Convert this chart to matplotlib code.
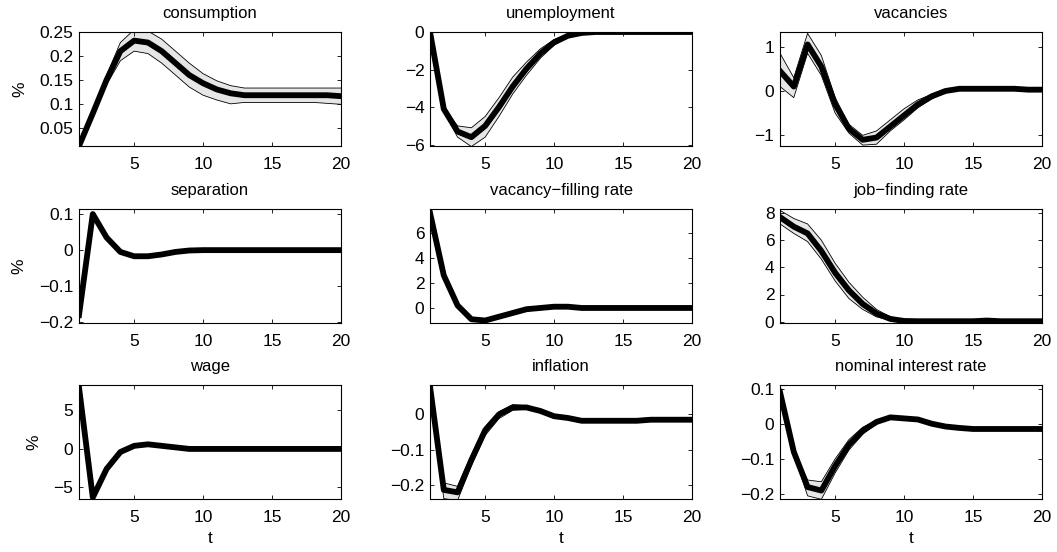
import numpy
import matplotlib
matplotlib.use("Agg")
import matplotlib.pyplot

matplotlib.pyplot.rcParams["font.family"] = ["Liberation Sans", "DejaVu Sans"]
matplotlib.pyplot.rcParams["font.size"] = 12.5

t = numpy.arange(1, 21)

titles = [
    "consumption", "unemployment", "vacancies",
    "separation", "vacancy\u2212filling rate", "job\u2212finding rate",
    "wage", "inflation", "nominal interest rate",
]

# posterior mean responses
consumption = [0.012, 0.08, 0.15, 0.21, 0.232, 0.228, 0.21, 0.185, 0.16, 0.143,
               0.13, 0.122, 0.118, 0.118, 0.118, 0.118, 0.118, 0.118, 0.118, 0.116]
unemployment = [0.0, -4.1, -5.3, -5.6, -5.0, -4.0, -2.9, -1.95, -1.15, -0.55,
                -0.2, -0.05, 0.0, 0.0, 0.0, 0.0, 0.0, 0.0, 0.0, 0.0]
vacancies = [0.45, 0.1, 1.05, 0.55, -0.3, -0.85, -1.1, -1.05, -0.8, -0.55,
             -0.3, -0.12, 0.0, 0.05, 0.05, 0.05, 0.05, 0.05, 0.03, 0.03]
separation = [-0.18, 0.1, 0.035, -0.005, -0.017, -0.017, -0.012, -0.005, -0.001, 0.0,
              0.0, 0.0, 0.0, 0.0, 0.0, 0.0, 0.0, 0.0, 0.0, 0.0]
vacancy_filling = [7.6, 2.6, 0.2, -0.9, -1.0, -0.7, -0.4, -0.1, 0.0, 0.1,
                   0.1, 0.0, 0.0, 0.0, 0.0, 0.0, 0.0, 0.0, 0.0, 0.0]
job_finding = [7.7, 7.0, 6.5, 5.2, 3.6, 2.3, 1.3, 0.6, 0.2, 0.05,
               0.03, 0.03, 0.03, 0.03, 0.03, 0.08, 0.03, 0.03, 0.03, 0.03]
wage = [8.0, -6.3, -2.6, -0.4, 0.4, 0.6, 0.4, 0.2, 0.0, 0.0,
        0.0, 0.0, 0.0, 0.0, 0.0, 0.0, 0.0, 0.0, 0.0, 0.0]
inflation = [0.08, -0.215, -0.222, -0.13, -0.045, 0.0, 0.02, 0.02, 0.01, -0.005,
             -0.01, -0.018, -0.018, -0.018, -0.018, -0.018, -0.015, -0.015, -0.015, -0.015]
nominal_rate = [0.09, -0.08, -0.18, -0.19, -0.12, -0.06, -0.02, 0.005, 0.018, 0.015,
                0.012, 0.0, -0.008, -0.012, -0.015, -0.015, -0.015, -0.015, -0.015, -0.015]

# upper / lower bands
consumption_hi = [0.012, 0.085, 0.16, 0.228, 0.255, 0.252, 0.235, 0.21, 0.185, 0.163,
                  0.148, 0.138, 0.133, 0.133, 0.133, 0.133, 0.133, 0.133, 0.133, 0.133]
consumption_lo = [0.012, 0.075, 0.14, 0.19, 0.21, 0.205, 0.185, 0.16, 0.135, 0.118,
                  0.108, 0.1, 0.103, 0.103, 0.103, 0.103, 0.103, 0.103, 0.101, 0.099]
unemployment_hi = [0.0, -4.0, -5.0, -5.1, -4.5, -3.5, -2.4, -1.6, -0.9, -0.4,
                   -0.12, 0.0, 0.0, 0.0, 0.0, 0.0, 0.0, 0.0, 0.0, 0.0]
unemployment_lo = [0.0, -4.2, -5.6, -6.1, -5.6, -4.5, -3.3, -2.3, -1.4, -0.7,
                   -0.3, -0.08, 0.0, 0.0, 0.0, 0.0, 0.0, 0.0, 0.0, 0.0]
vacancies_hi = [0.85, 0.3, 1.3, 0.8, -0.15, -0.75, -1.0, -0.9, -0.65, -0.4,
                -0.2, -0.08, 0.02, 0.06, 0.06, 0.06, 0.06, 0.06, 0.04, 0.04]
vacancies_lo = [0.1, -0.15, 0.85, 0.35, -0.5, -0.95, -1.22, -1.2, -0.9, -0.65,
                -0.38, -0.18, -0.03, 0.04, 0.04, 0.04, 0.04, 0.04, 0.02, 0.02]
separation_hi = [v + 0.002 for v in separation]
separation_lo = [v - 0.002 for v in separation]
vacancy_filling_hi = [v + 0.1 for v in vacancy_filling]
vacancy_filling_lo = [v - 0.1 for v in vacancy_filling]
job_finding_hi = [8.2, 7.6, 7.2, 6.0, 4.3, 2.9, 1.8, 0.9, 0.35, 0.1,
                  0.06, 0.06, 0.06, 0.06, 0.06, 0.2, 0.06, 0.06, 0.06, 0.06]
job_finding_lo = [7.2, 6.5, 5.9, 4.6, 3.0, 1.7, 0.9, 0.35, 0.1, 0.0,
                  0.0, 0.0, 0.0, 0.0, 0.0, 0.0, 0.0, 0.0, 0.0, 0.0]
wage_hi = [v + 0.15 for v in wage]
wage_lo = [v - 0.15 for v in wage]
inflation_hi = [0.08, -0.195, -0.205, -0.115, -0.035, 0.008, 0.028, 0.025, 0.013, -0.002,
                -0.008, -0.016, -0.016, -0.016, -0.016, -0.016, -0.013, -0.013, -0.013, -0.013]
inflation_lo = [0.08, -0.24, -0.245, -0.145, -0.06, -0.012, 0.012, 0.015, 0.007, -0.008,
                -0.012, -0.02, -0.02, -0.02, -0.02, -0.02, -0.017, -0.017, -0.017, -0.017]
nominal_rate_hi = [0.09, -0.075, -0.16, -0.165, -0.1, -0.045, -0.01, 0.01, 0.02, 0.017,
                   0.013, 0.001, -0.007, -0.011, -0.014, -0.014, -0.014, -0.014, -0.014, -0.014]
nominal_rate_lo = [0.09, -0.085, -0.205, -0.215, -0.14, -0.075, -0.03, 0.0, 0.015, 0.013,
                   0.011, -0.001, -0.009, -0.013, -0.016, -0.016, -0.016, -0.016, -0.016, -0.016]

means = [consumption, unemployment, vacancies, separation, vacancy_filling,
         job_finding, wage, inflation, nominal_rate]
uppers = [consumption_hi, unemployment_hi, vacancies_hi, separation_hi, vacancy_filling_hi,
          job_finding_hi, wage_hi, inflation_hi, nominal_rate_hi]
lowers = [consumption_lo, unemployment_lo, vacancies_lo, separation_lo, vacancy_filling_lo,
          job_finding_lo, wage_lo, inflation_lo, nominal_rate_lo]

ylims = [(0.012, 0.25), (-6.07, 0.0), (-1.24, 1.33),
         (-0.202, 0.114), (-1.2, 7.9), (-0.1, 8.3),
         (-6.5, 8.3), (-0.241, 0.084), (-0.214, 0.11)]
yticks = [[0.05, 0.1, 0.15, 0.2, 0.25], [-6, -4, -2, 0], [-1, 0, 1],
          [-0.2, -0.1, 0, 0.1], [0, 2, 4, 6], [0, 2, 4, 6, 8],
          [-5, 0, 5], [-0.2, -0.1, 0], [-0.2, -0.1, 0, 0.1]]


def fmt(v):
    s = f"{v:g}"
    return s.replace("-", "\u2212")


W, H = 1057, 552
fig = matplotlib.pyplot.figure(figsize=(W / 100, H / 100), dpi=100)
col_left = [79, 430, 780]
row_top = [32, 209, 385]
ax_w, ax_h = 262, 114

for i in range(9):
    r, c = divmod(i, 3)
    ax = fig.add_axes([col_left[c] / W, 1 - (row_top[r] + ax_h) / H, ax_w / W, ax_h / H])
    ax.fill_between(t, lowers[i], uppers[i], facecolor="0.9", edgecolor="none")
    ax.plot(t, uppers[i], color="black", lw=0.6)
    ax.plot(t, lowers[i], color="black", lw=0.6)
    ax.plot(t, means[i], color="black", lw=4.2, solid_joinstyle="round")
    ax.set_xlim(1, 20)
    ax.set_ylim(*ylims[i])
    ax.set_xticks([5, 10, 15, 20])
    ax.set_yticks(yticks[i])
    ax.set_yticklabels([fmt(v) for v in yticks[i]])
    ax.tick_params(direction="in", top=True, right=True, length=3, width=0.6)
    ax.tick_params(axis="x", pad=8)
    ax.tick_params(axis="y", pad=4)
    for s in ax.spines.values():
        s.set_linewidth(0.8)
    ax.set_title(titles[i], fontsize=12, pad=10)
    if c == 0:
        ax.set_ylabel("%", labelpad=9)
    if r == 2:
        ax.set_xlabel("t", labelpad=4)

fig.savefig("out.png", dpi=100)
